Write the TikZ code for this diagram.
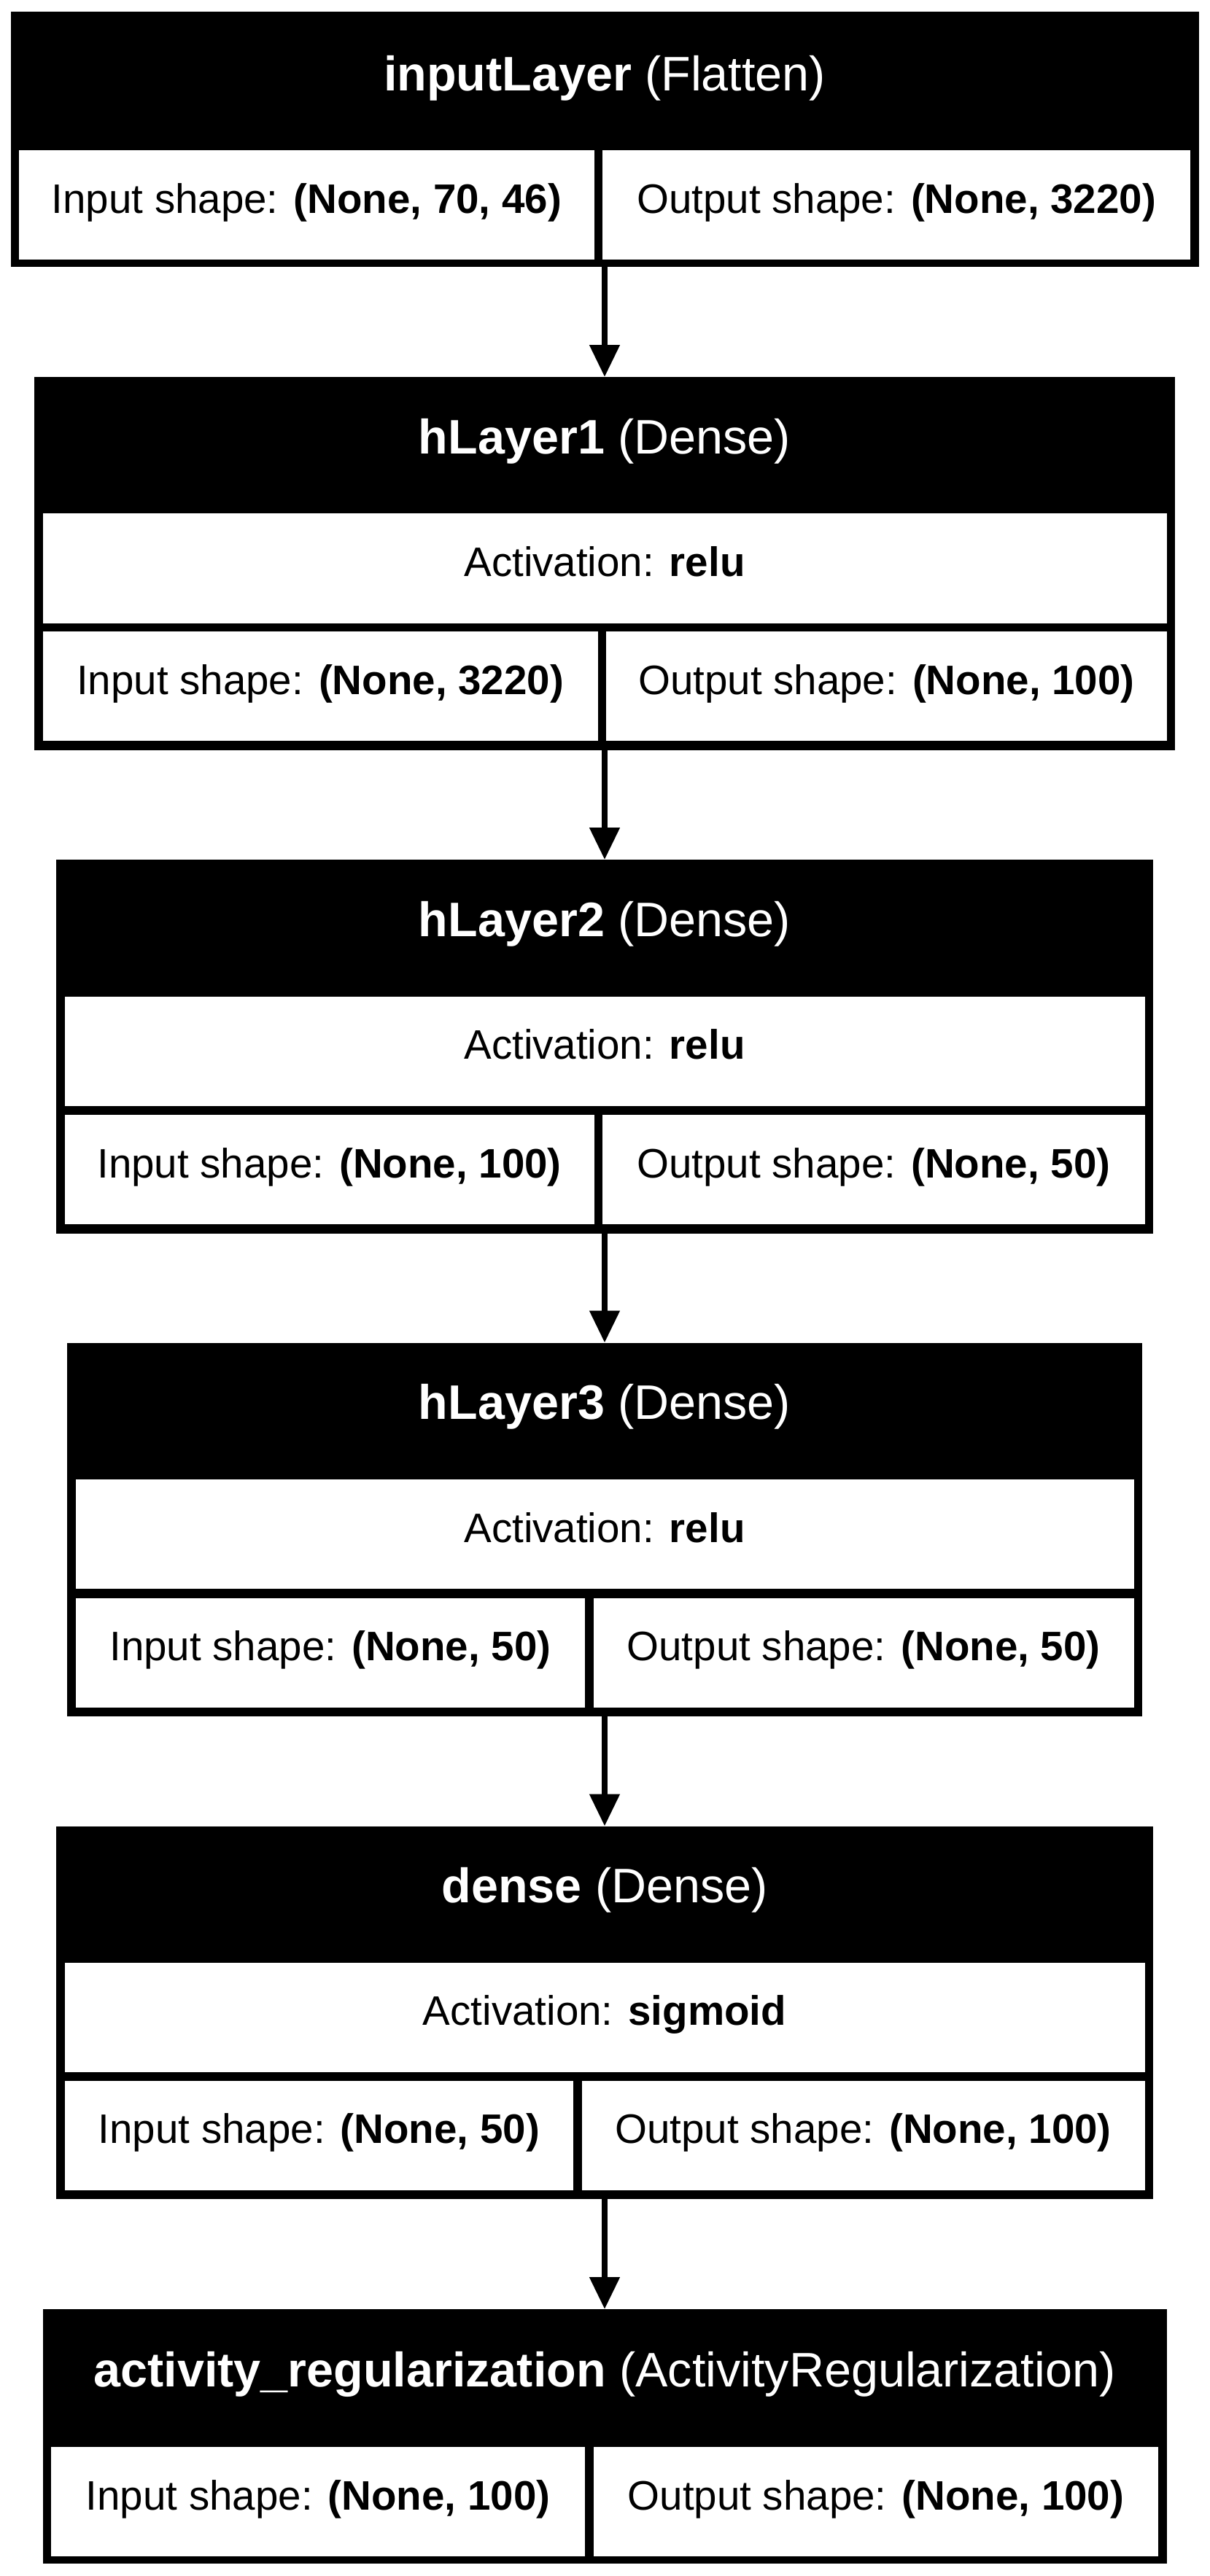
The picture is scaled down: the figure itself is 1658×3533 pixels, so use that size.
\documentclass[tikz,border=0pt]{standalone}
\usepackage{fontspec}
\setmainfont{Liberation Sans}
\usetikzlibrary{arrows.meta}
\begin{document}
\begin{tikzpicture}[x=1pt,y=-1pt,
  outerbox/.style={rectangle,fill=black,draw=none,inner sep=0pt,outer sep=0pt,anchor=north},
  cellbox/.style={rectangle,fill=white,draw=none,inner sep=0pt,outer sep=0pt,anchor=north west},
  bodytxt/.style={anchor=base,inner sep=0pt,font=\fontsize{56.5pt}{60pt}\selectfont,text=black},
  headtxt/.style={anchor=base,inner sep=0pt,font=\fontsize{66.5pt}{70pt}\selectfont,text=white},
  flow/.style={draw=black,line width=8pt,line join=miter,-{Triangle[length=44pt,width=40pt]}}]
\useasboundingbox (0,0) rectangle (1658,3533);
\fill[white] (0,0) rectangle (1658,3533);

% Box 1: inputLayer
\node[outerbox,minimum width=1629pt,minimum height=350pt] (b1) at (829,16) {};
\node[cellbox,minimum width=788.75pt,minimum height=150pt] (b1l) at (26,206) {};
\node[cellbox,minimum width=805.75pt,minimum height=150pt] (b1r) at (826.25,206) {};
\node[headtxt] (b1h) at (829,124) {\textbf{inputLayer} (Flatten)};
\node[bodytxt] (b1i) at (420.4,292) {Input shape: \textbf{(None, 70, 46)}};
\node[bodytxt] (b1o) at (1229.1,292) {Output shape: \textbf{(None, 3220)}};

% Box 2: hLayer1
\node[outerbox,minimum width=1564pt,minimum height=512pt] (b2) at (829,517) {};
\node[cellbox,minimum width=1541pt,minimum height=151pt] (b2a) at (58.5,704) {};
\node[cellbox,minimum width=761.25pt,minimum height=150pt] (b2l) at (58.5,866) {};
\node[cellbox,minimum width=768.25pt,minimum height=150pt] (b2r) at (831.25,866) {};
\node[headtxt] (b2h) at (829,622) {\textbf{hLayer1} (Dense)};
\node[bodytxt] (b2t) at (829,790.5) {Activation: \textbf{relu}};
\node[bodytxt] (b2i) at (439.1,952) {Input shape: \textbf{(None, 3220)}};
\node[bodytxt] (b2o) at (1215.4,952) {Output shape: \textbf{(None, 100)}};

% Box 3: hLayer2
\node[outerbox,minimum width=1504pt,minimum height=512.5pt] (b3) at (829,1179) {};
\node[cellbox,minimum width=1481pt,minimum height=150.5pt] (b3a) at (88.5,1366.5) {};
\node[cellbox,minimum width=726.25pt,minimum height=150pt] (b3l) at (88.5,1529) {};
\node[cellbox,minimum width=743.25pt,minimum height=150pt] (b3r) at (826.25,1529) {};
\node[headtxt] (b3h) at (829,1284) {\textbf{hLayer2} (Dense)};
\node[bodytxt] (b3t) at (829,1452.75) {Activation: \textbf{relu}};
\node[bodytxt] (b3i) at (451.6,1615) {Input shape: \textbf{(None, 100)}};
\node[bodytxt] (b3o) at (1197.9,1615) {Output shape: \textbf{(None, 50)}};

% Box 4: hLayer3
\node[outerbox,minimum width=1474pt,minimum height=512pt] (b4) at (829,1841.5) {};
\node[cellbox,minimum width=1451pt,minimum height=150pt] (b4a) at (103.5,2029) {};
\node[cellbox,minimum width=698.75pt,minimum height=150pt] (b4l) at (103.5,2191.5) {};
\node[cellbox,minimum width=740.75pt,minimum height=150pt] (b4r) at (813.75,2191.5) {};
\node[headtxt] (b4h) at (829,1946.5) {\textbf{hLayer3} (Dense)};
\node[bodytxt] (b4t) at (829,2115) {Activation: \textbf{relu}};
\node[bodytxt] (b4i) at (452.9,2277.5) {Input shape: \textbf{(None, 50)}};
\node[bodytxt] (b4o) at (1184.1,2277.5) {Output shape: \textbf{(None, 50)}};

% Box 5: dense
\node[outerbox,minimum width=1504pt,minimum height=511.5pt] (b5) at (829,2504.5) {};
\node[cellbox,minimum width=1481pt,minimum height=150pt] (b5a) at (88.5,2691.5) {};
\node[cellbox,minimum width=697.75pt,minimum height=149.5pt] (b5l) at (88.5,2854) {};
\node[cellbox,minimum width=771.75pt,minimum height=149.5pt] (b5r) at (797.75,2854) {};
\node[headtxt] (b5h) at (829,2609.5) {\textbf{dense} (Dense)};
\node[bodytxt] (b5t) at (829,2777.5) {Activation: \textbf{sigmoid}};
\node[bodytxt] (b5i) at (437.4,2939.75) {Input shape: \textbf{(None, 50)}};
\node[bodytxt] (b5o) at (1183.6,2939.75) {Output shape: \textbf{(None, 100)}};

% Box 6: activity_regularization
\node[outerbox,minimum width=1541pt,minimum height=349pt] (b6) at (829,3167) {};
\node[cellbox,minimum width=732.25pt,minimum height=150pt] (b6l) at (70,3356) {};
\node[cellbox,minimum width=774.25pt,minimum height=150pt] (b6r) at (813.75,3356) {};
\node[headtxt] (b6h) at (829,3273) {\textbf{activity\_regularization} (ActivityRegularization)};
\node[bodytxt] (b6i) at (436.1,3442) {Input shape: \textbf{(None, 100)}};
\node[bodytxt] (b6o) at (1200.9,3442) {Output shape: \textbf{(None, 100)}};

% connectors
\draw[flow] (b1.south) -- (b2.north);
\draw[flow] (b2.south) -- (b3.north);
\draw[flow] (b3.south) -- (b4.north);
\draw[flow] (b4.south) -- (b5.north);
\draw[flow] (b5.south) -- (b6.north);
\end{tikzpicture}
\end{document}
